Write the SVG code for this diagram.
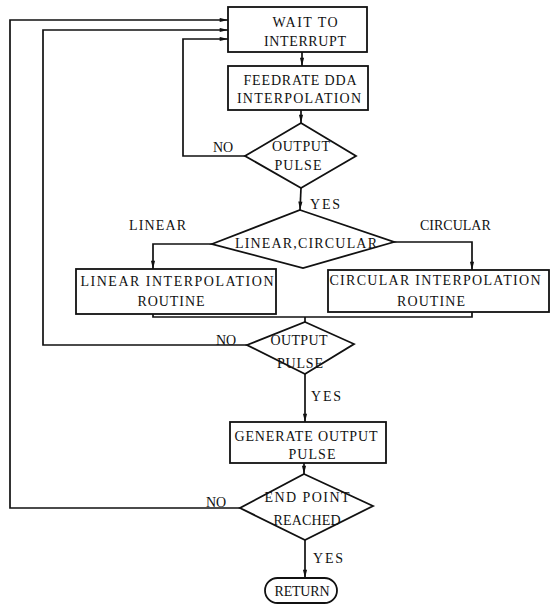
<svg xmlns="http://www.w3.org/2000/svg" width="555" height="614" viewBox="0 0 555 614">
<style>
  .box{fill:#fff;stroke:#111;stroke-width:1.8}
  .ln{fill:none;stroke:#111;stroke-width:1.7}
  .arr{marker-end:url(#ah)}
  text{font-family:"Liberation Serif","Times New Roman",serif;font-size:14px;fill:#111}
  .c{text-anchor:middle}
</style>
<defs>
  <marker id="ah" viewBox="0 0 10 6" refX="10" refY="3" markerWidth="9" markerHeight="5" markerUnits="userSpaceOnUse" orient="auto">
    <path d="M0,0.5 L10,3 L0,5.5 z" fill="#111"/>
  </marker>
</defs>
<rect width="555" height="614" fill="#fff"/>

<g id="connectors">
  <line class="ln arr" x1="302" y1="52" x2="302" y2="66"/>
  <line class="ln arr" x1="301" y1="110" x2="301" y2="123"/>
  <polyline class="ln arr" points="245,156 183,156 183,39 228,39"/>
  <line class="ln arr" x1="301" y1="188" x2="300" y2="210"/>
  <polyline class="ln arr" points="212,244 153,244 153,269"/>
  <polyline class="ln arr" points="394,242 472,242 472,270"/>
  <polyline class="ln" points="153,314 153,317 472,317 472,312"/>
  <line class="ln" x1="305" y1="317" x2="305" y2="322"/>
  <polyline class="ln arr" points="247,345 43,345 43,30 228,30"/>
  <line class="ln arr" x1="305" y1="374" x2="305" y2="422"/>
  <line class="ln arr" x1="304" y1="463" x2="304" y2="474"/>
  <polyline class="ln arr" points="240,508 10,508 10,20 228,20"/>
  <line class="ln arr" x1="305" y1="540" x2="305" y2="578"/>
</g>

<g id="wait">
  <rect class="box" x="228" y="7" width="139" height="45"/>
  <text class="c" x="305" y="27" textLength="65">WAIT TO</text>
  <text class="c" x="305" y="46" textLength="82">INTERRUPT</text>
</g>
<g id="feedrate">
  <rect class="box" x="228" y="66" width="140" height="44"/>
  <text class="c" x="300" y="85" textLength="113">FEEDRATE DDA</text>
  <text class="c" x="299" y="103" textLength="124">INTERPOLATION</text>
</g>
<g id="output1">
  <polygon class="box" points="301,123 356,156 301,188 245,156"/>
  <text class="c" x="301" y="151" textLength="58">OUTPUT</text>
  <text class="c" x="298" y="170" textLength="47">PULSE</text>
  <text x="213" y="152">NO</text>
  <text x="310" y="209" textLength="30">YES</text>
</g>
<g id="mode">
  <polygon class="box" points="300,210 394,242 303,268 212,244"/>
  <text class="c" x="306" y="248" textLength="142">LINEAR,CIRCULAR</text>
  <text x="129" y="230" textLength="57">LINEAR</text>
  <text x="420" y="230">CIRCULAR</text>
</g>
<g id="linear">
  <rect class="box" x="76" y="269" width="200" height="45"/>
  <text class="c" x="177" y="286" textLength="193">LINEAR INTERPOLATION</text>
  <text class="c" x="171" y="306" textLength="67">ROUTINE</text>
</g>
<g id="circular">
  <rect class="box" x="328" y="270" width="221" height="42"/>
  <text class="c" x="435" y="285" textLength="211">CIRCULAR INTERPOLATION</text>
  <text class="c" x="431" y="306" textLength="68">ROUTINE</text>
</g>
<g id="output2">
  <polygon class="box" points="305,322 354,344 305,374 247,345"/>
  <text class="c" x="299" y="345" textLength="57">OUTPUT</text>
  <text class="c" x="300" y="368" textLength="46">PULSE</text>
  <text x="216" y="345">NO</text>
  <text x="311" y="401" textLength="30">YES</text>
</g>
<g id="generate">
  <rect class="box" x="230" y="422" width="156" height="41"/>
  <text class="c" x="306" y="441" textLength="143">GENERATE OUTPUT</text>
  <text class="c" x="312" y="459" textLength="47">PULSE</text>
</g>
<g id="endpoint">
  <polygon class="box" points="304,474 373,506 305,540 240,508"/>
  <text class="c" x="307" y="502" textLength="85">END POINT</text>
  <text class="c" x="307" y="525" textLength="67">REACHED</text>
  <text x="206" y="507">NO</text>
  <text x="313" y="563" textLength="30">YES</text>
</g>
<g id="return">
  <rect class="box" x="265" y="578" width="72" height="25" rx="12.5"/>
  <text class="c" x="302" y="596" textLength="55">RETURN</text>
</g>
</svg>
